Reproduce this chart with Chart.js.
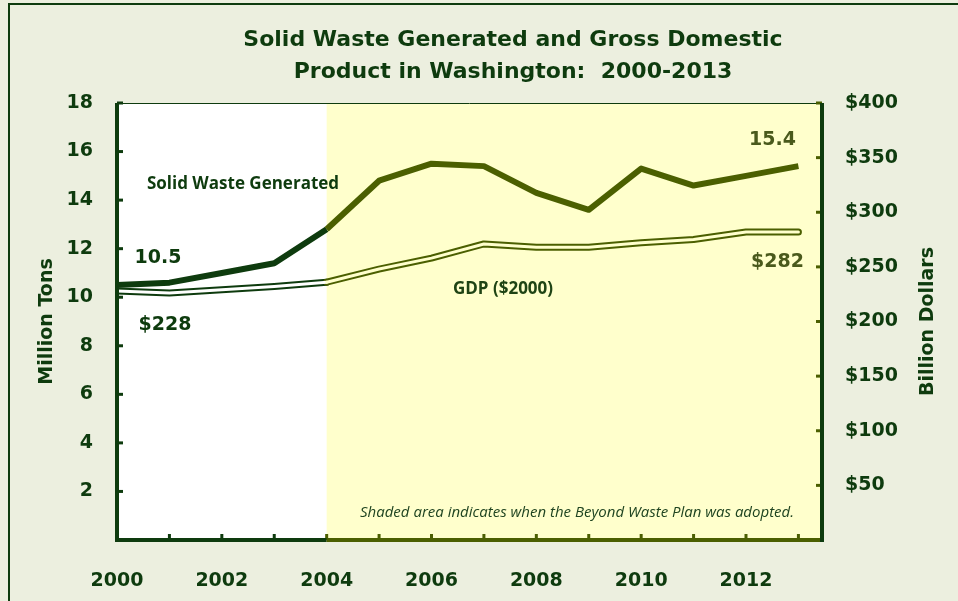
<!DOCTYPE html>
<html>
<head>
<meta charset="utf-8">
<title>Solid Waste Generated and Gross Domestic Product in Washington: 2000-2013</title>
<script src="https://cdn.jsdelivr.net/npm/chart.js@4/dist/chart.umd.min.js"></script>
<style>
  html, body { margin: 0; padding: 0; background: #ECEFDF; }
  canvas { display: block; }
</style>
</head>
<body>
<canvas id="chart" width="958" height="601"></canvas>
<script>
// Years on the horizontal axis
const years = [2000, 2001, 2002, 2003, 2004, 2005, 2006, 2007, 2008, 2009, 2010, 2011, 2012, 2013];
// Solid waste generated, million tons
const wasteTons = [10.5, 10.6, 11.0, 11.4, 12.8, 14.8, 15.5, 15.4, 14.3, 13.6, 15.3, 14.6, 15.0, 15.4];
// Gross domestic product (in 2000 dollars), billion dollars
const gdpBillions = [228, 226, 229, 232, 236, 248, 258, 271, 268, 268, 272, 275, 282, 282];

// Tick labels
const yearLabels = [2000, 2002, 2004, 2006, 2008, 2010, 2012];
const tonsTicks = [2, 4, 6, 8, 10, 12, 14, 16, 18];
const dollarTicks = [50, 100, 150, 200, 250, 300, 350, 400];

// Year the Beyond Waste Plan was adopted (start of the shaded area)
const planYear = 2004;

const titleLines = ['Solid Waste Generated and Gross Domestic', 'Product in Washington:  2000-2013'];

const DARK = '#0E3B0E';
const OLIVE = '#4B5F00';
const OLIVE_TEXT = '#4A5A1C';
const SHADE = '#FFFFCC';
const PAGE = '#ECEFDF';
const FONT = '"DejaVu Sans", "Liberation Sans", Arial, sans-serif';
const NOTE_FONT = '"Open Sans", "Noto Sans", sans-serif';

const points = (vals) => years.map((yr, i) => ({ x: yr, y: vals[i] }));
const byZone = (before, after) => (ctx) => (ctx.p0.parsed.x >= planYear ? after : before);

// Page background, outer border and the plot-area fill with the shaded plan period
const backdrop = {
  id: 'backdrop',
  beforeDraw(chart) {
    const { ctx, chartArea: a, scales } = chart;
    ctx.save();
    ctx.fillStyle = PAGE;
    ctx.fillRect(0, 0, chart.width, chart.height);
    ctx.strokeStyle = DARK;
    ctx.lineWidth = 2;
    ctx.strokeRect(9, 4, chart.width + 20, chart.height + 20);
    ctx.fillStyle = '#FFFFFF';
    ctx.fillRect(a.left, a.top, a.right - a.left, a.bottom - a.top);
    const sx = scales.x.getPixelForValue(planYear);
    ctx.fillStyle = SHADE;
    ctx.fillRect(sx, a.top, a.right - sx, a.bottom - a.top);
    ctx.restore();
  }
};

// Axis frame with inward tick marks, titles and text notes
const decorations = {
  id: 'decorations',
  afterDatasetsDraw(chart) {
    const { ctx, chartArea: a, scales } = chart;
    const xs = scales.x, yl = scales.y, yr = scales.y2;
    const sx = xs.getPixelForValue(planYear);
    ctx.save();

    // top edge of the plot
    ctx.strokeStyle = DARK;
    ctx.lineWidth = 1;
    ctx.beginPath();
    ctx.moveTo(a.left, a.top + 0.5);
    ctx.lineTo(a.right, a.top + 0.5);
    ctx.stroke();

    ctx.lineCap = 'butt';
    // tick marks
    ctx.lineWidth = 3;
    tonsTicks.forEach(v => {
      const y = yl.getPixelForValue(v);
      ctx.strokeStyle = DARK;
      ctx.beginPath(); ctx.moveTo(a.left, y); ctx.lineTo(a.left + 6, y); ctx.stroke();
    });
    dollarTicks.forEach(v => {
      const y = yr.getPixelForValue(v);
      ctx.strokeStyle = OLIVE;
      ctx.beginPath(); ctx.moveTo(a.right, y); ctx.lineTo(a.right - 6, y); ctx.stroke();
    });
    years.forEach(v => {
      const x = xs.getPixelForValue(v);
      ctx.strokeStyle = x < sx ? DARK : OLIVE;
      ctx.beginPath(); ctx.moveTo(x, a.bottom); ctx.lineTo(x, a.bottom - 6); ctx.stroke();
    });

    // axis lines
    ctx.lineWidth = 4;
    ctx.strokeStyle = DARK;
    ctx.beginPath(); ctx.moveTo(sx, a.bottom); ctx.lineTo(a.left - 2, a.bottom); ctx.stroke();
    ctx.strokeStyle = OLIVE;
    ctx.beginPath(); ctx.moveTo(sx, a.bottom); ctx.lineTo(a.right + 2, a.bottom); ctx.stroke();
    ctx.strokeStyle = DARK;
    ctx.beginPath(); ctx.moveTo(a.left, a.top); ctx.lineTo(a.left, a.bottom + 2); ctx.stroke();
    ctx.beginPath(); ctx.moveTo(a.right, a.top); ctx.lineTo(a.right, a.bottom + 2); ctx.stroke();

    // chart title
    ctx.fillStyle = DARK;
    ctx.textAlign = 'center';
    ctx.textBaseline = 'middle';
    ctx.font = 'bold 22px ' + FONT;
    ctx.fillText(titleLines[0], 513, 40);
    ctx.fillText(titleLines[1], 513, 72);

    // right axis title, reading upward
    ctx.save();
    ctx.translate(928, (a.top + a.bottom) / 2);
    ctx.rotate(-Math.PI / 2);
    ctx.font = 'bold 19px ' + FONT;
    ctx.fillText('Billion Dollars', 0, 0);
    ctx.restore();

    // end-point value labels
    const last = years.length - 1;
    ctx.font = 'bold 19px ' + FONT;
    ctx.fillStyle = DARK;
    ctx.fillText(wasteTons[0].toFixed(1), xs.getPixelForValue(years[0]) + 41, yl.getPixelForValue(wasteTons[0]) - 27);
    ctx.fillText('$' + gdpBillions[0], xs.getPixelForValue(years[0]) + 48, yr.getPixelForValue(gdpBillions[0]) + 34);
    ctx.fillStyle = OLIVE_TEXT;
    ctx.fillText(wasteTons[last].toFixed(1), xs.getPixelForValue(years[last]) - 26, yl.getPixelForValue(wasteTons[last]) - 26);
    ctx.fillText('$' + gdpBillions[last], xs.getPixelForValue(years[last]) - 21, yr.getPixelForValue(gdpBillions[last]) + 30);

    // series names
    ctx.fillStyle = DARK;
    ctx.font = 'bold 17px ' + NOTE_FONT;
    ctx.fillText('Solid Waste Generated', 243, 184);
    ctx.fillStyle = '#1F4414';
    ctx.font = 'bold 17px ' + NOTE_FONT;
    ctx.fillText('GDP ($2000)', 503, 289);

    // note about the shaded period
    ctx.fillStyle = '#1F4420';
    ctx.font = 'italic 15px ' + NOTE_FONT;
    ctx.fillText('Shaded area indicates when the Beyond Waste Plan was adopted.', 577, 513);

    ctx.restore();
  }
};

const tickFont = { family: FONT, size: 19, weight: 'bold' };

new Chart(document.getElementById('chart'), {
  type: 'line',
  data: {
    datasets: [
      {
        label: 'Solid Waste Generated',
        data: points(wasteTons),
        yAxisID: 'y',
        borderWidth: 6,
        borderColor: DARK,
        segment: { borderColor: byZone(DARK, OLIVE) },
        borderJoinStyle: 'round',
        pointRadius: 0,
        tension: 0,
        order: 0
      },
      {
        label: 'GDP ($2000)',
        data: points(gdpBillions),
        yAxisID: 'y2',
        borderWidth: 3,
        borderColor: '#FFFFFF',
        segment: { borderColor: byZone('#FFFFFF', SHADE) },
        borderCapStyle: 'round',
        borderJoinStyle: 'round',
        pointRadius: 0,
        tension: 0,
        order: 1
      },
      {
        label: 'GDP ($2000) outline',
        data: points(gdpBillions),
        yAxisID: 'y2',
        borderWidth: 7,
        borderColor: DARK,
        segment: { borderColor: byZone(DARK, OLIVE) },
        borderCapStyle: 'round',
        borderJoinStyle: 'round',
        pointRadius: 0,
        tension: 0,
        order: 2
      }
    ]
  },
  options: {
    responsive: false,
    animation: false,
    devicePixelRatio: 1,
    layout: { padding: { top: 103, left: 0, right: 0, bottom: 0 } },
    plugins: {
      legend: { display: false },
      tooltip: { enabled: false },
      title: { display: false }
    },
    scales: {
      x: {
        type: 'linear',
        position: 'bottom',
        min: 2000,
        max: 2013.45,
        grid: { display: false, drawTicks: false },
        border: { display: false },
        ticks: {
          stepSize: 1,
          autoSkip: false,
          includeBounds: false,
          maxRotation: 0,
          padding: 30,
          color: DARK,
          font: tickFont,
          callback: (v) => (yearLabels.includes(v) ? String(v) : '')
        },
        afterFit: (s) => { s.height = 61; }
      },
      y: {
        position: 'left',
        min: 0,
        max: 18,
        grid: { display: false, drawTicks: false },
        border: { display: false },
        ticks: {
          stepSize: 2,
          padding: 24,
          color: DARK,
          font: tickFont,
          callback: (v) => (tonsTicks.includes(v) ? String(v) : '')
        },
        title: {
          display: true,
          text: 'Million Tons',
          color: DARK,
          font: { family: FONT, size: 19, weight: 'bold' },
          padding: { top: 36, bottom: 0 }
        },
        afterFit: (s) => { s.width = 117; }
      },
      y2: {
        position: 'right',
        min: 0,
        max: 400,
        grid: { display: false, drawTicks: false },
        border: { display: false },
        ticks: {
          stepSize: 50,
          padding: 23,
          color: DARK,
          font: tickFont,
          callback: (v) => (dollarTicks.includes(v) ? '$' + v : '')
        },
        afterFit: (s) => { s.width = 136; }
      }
    }
  },
  plugins: [backdrop, decorations]
});
</script>
</body>
</html>
